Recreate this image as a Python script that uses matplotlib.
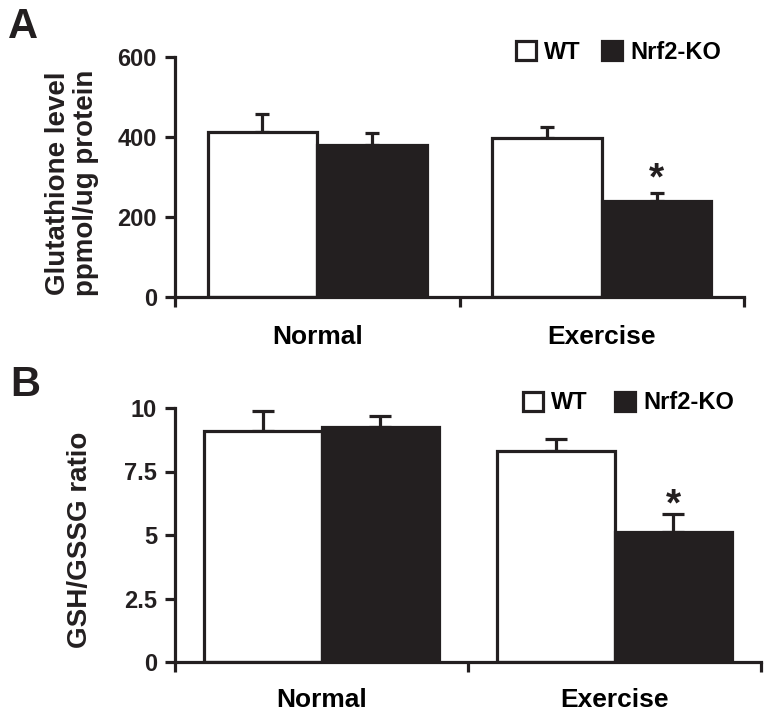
import numpy as np
import matplotlib
matplotlib.use("Agg")
import matplotlib.pyplot as plt
from matplotlib.patches import Patch

plt.rcParams['font.family'] = ['Liberation Sans', 'DejaVu Sans']
plt.rcParams['font.weight'] = 'bold'

groups = ["Normal", "Exercise"]
series = ["WT", "Nrf2-KO"]

# panel A - glutathione level (ppmol/ug protein)
gsh_wt = [412, 397]
gsh_wt_err = [45, 28]
gsh_ko = [380, 240]
gsh_ko_err = [30, 20]

# panel B - GSH/GSSG ratio
ratio_wt = [9.1, 8.3]
ratio_wt_err = [0.8, 0.47]
ratio_ko = [9.25, 5.12]
ratio_ko_err = [0.45, 0.7]

black = '#231f20'
lw = 2.3

fig = plt.figure(figsize=(7.74, 7.24), dpi=100)
axA = fig.add_axes([175/774, 1-297/724, 569/774, 240/724])
axB = fig.add_axes([175/774, 1-662/724, 586/774, 254/724])


def draw_panel(ax, wt, wt_err, ko, ko_err, width, capsize, yticks, yticklabels, ylim, star_y, pad):
    centers = np.array([0.5, 1.5])
    ax.bar(centers - width/2, wt, width, color='white', edgecolor=black, linewidth=lw, zorder=2)
    ax.bar(centers + width/2, ko, width, color=black, edgecolor=black, linewidth=lw, zorder=2)
    ax.errorbar(centers - width/2, wt, yerr=[np.zeros(2), wt_err], fmt='none',
                ecolor=black, elinewidth=lw, capsize=capsize, capthick=lw, zorder=1)
    ax.errorbar(centers + width/2, ko, yerr=[np.zeros(2), ko_err], fmt='none',
                ecolor=black, elinewidth=lw, capsize=capsize, capthick=lw, zorder=1)
    # significance star over Exercise KO
    ax.text(centers[1] + width/2, star_y, '*', ha='center', va='center', fontsize=28, color=black)

    ax.set_xlim(0, 2)
    ax.set_ylim(*ylim)
    ax.set_yticks(yticks)
    ax.set_yticklabels(yticklabels)
    ax.set_xticks([0, 1, 2])
    ax.set_xticklabels([])
    ax.set_xticks(centers, minor=True)
    ax.set_xticklabels(groups, minor=True, fontsize=19)
    ax.tick_params(axis='x', which='minor', length=0, pad=pad)
    ax.tick_params(axis='both', which='major', length=7, width=lw, colors=black, labelsize=17)
    ax.tick_params(axis='y', pad=6)
    for s in ['top', 'right']:
        ax.spines[s].set_visible(False)
    for s in ['left', 'bottom']:
        ax.spines[s].set_linewidth(lw)
        ax.spines[s].set_color(black)
    ax.spines['left'].set_bounds(ylim[0], ylim[1])

    handles = [Patch(facecolor='white', edgecolor=black, linewidth=lw, label=series[0]),
               Patch(facecolor=black, edgecolor=black, linewidth=lw, label=series[1])]
    return handles


hA = draw_panel(axA, gsh_wt, gsh_wt_err, gsh_ko, gsh_ko_err, 0.385, 5,
                [0, 200, 400, 600], ['0', '200', '400', '600'], (0, 600), 295, 20)
axA.legend(handles=hA, loc='center left', bbox_to_anchor=(0.599, 1.02), ncol=2, frameon=False,
           fontsize=17, handlelength=0.85, handleheight=0.85, handletextpad=0.35,
           columnspacing=0.9, borderpad=0, borderaxespad=0)

hB = draw_panel(axB, ratio_wt, ratio_wt_err, ratio_ko, ratio_ko_err, 0.40, 8,
                [0, 2.5, 5, 7.5, 10], ['0', '2.5', '5', '7.5', '10'], (0, 10), 6.15, 19)
axB.legend(handles=hB, loc='center left', bbox_to_anchor=(0.594, 1.02), ncol=2, frameon=False,
           fontsize=17, handlelength=0.85, handleheight=0.85, handletextpad=0.35,
           columnspacing=1.15, borderpad=0, borderaxespad=0)

fig.text(72/774, 1-183/724, "Glutathione level\nppmol/ug protein", rotation=90,
         ha='center', va='center', fontsize=20, linespacing=1.1, color=black)
fig.text(80/774, 1-540/724, "GSH/GSSG ratio", rotation=90,
         ha='center', va='center', fontsize=20, color=black)

fig.text(8/774, 1-27/724, "A", fontsize=30, ha='left', va='center', color=black)
fig.text(10/774, 1-385/724, "B", fontsize=30, ha='left', va='center', color=black)

fig.savefig("out.png", dpi=100, facecolor='white')
